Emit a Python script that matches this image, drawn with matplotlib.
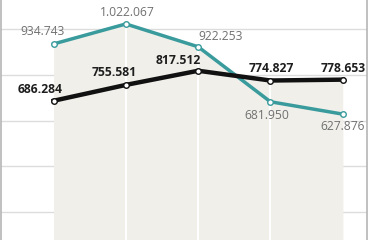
import numpy as np
import matplotlib.pyplot as plt

periods = [0, 1, 2, 3, 4]
teal_vals = [934743, 1022067, 922253, 681950, 627876]
black_vals = [686284, 755581, 817512, 774827, 778653]
teal_labels = ['934.743', '1.022.067', '922.253', '681.950', '627.876']
black_labels = ['686.284', '755.581', '817.512', '774.827', '778.653']
grid_ticks = [200000, 400000, 600000, 800000, 1000000]

# label offsets in pixels (dx, dy)
teal_off = [(-11, 12), (1, 11), (22, 10), (-4, -14), (0, -12)]
black_off = [(-13, 11), (-12, 12), (-20, 10), (1, 12), (0, 11)]

TEAL = '#3a9b9d'
BEIGE = '#f0efea'

fig = plt.figure(figsize=(3.7, 2.4), dpi=100)
ax = fig.add_axes([0.003, 0, 0.99, 1])
ymin, ymax = 77600, 1126800
ax.set_xlim(-0.726, 4.342)
ax.set_ylim(ymin, ymax)

ax.set_yticks(grid_ticks)
ax.grid(axis='y', color='#dcdcdc', lw=1.0, zorder=0)
ax.set_axisbelow(True)
ax.tick_params(left=False, bottom=False, labelleft=False, labelbottom=False)
ax.set_xticks([])
for s in ['top', 'bottom']:
    ax.spines[s].set_visible(False)
for s in ['left', 'right']:
    ax.spines[s].set_color('#b5b5b5')
    ax.spines[s].set_linewidth(1.2)

x = np.array(periods)
t = np.array(teal_vals)
b = np.array(black_vals)
ax.fill_between(x, ymin, t, color=BEIGE, lw=0, zorder=1)
ax.fill_between(x, ymin, b, color=BEIGE, lw=0, zorder=1)
ax.vlines(x[1:-1], ymin, np.maximum(t, b)[1:-1], color='white', lw=1.4, zorder=2)

ax.plot(x, t, color=TEAL, lw=2.5, marker='o', ms=4, mfc='white', mec=TEAL, mew=1, zorder=3,
        solid_joinstyle='round')
ax.plot(x, b, color='#111111', lw=3.2, marker='o', ms=4, mfc='white', mec='#111111', mew=1,
        zorder=4, solid_joinstyle='round')

for xi, v, lab, (dx, dy) in zip(x, t, teal_labels, teal_off):
    ax.annotate(lab, (xi, v), xytext=(dx, dy), textcoords='offset pixels',
                ha='center', va='center', fontsize=8.7, color='#707070',
                family=['Open Sans', 'DejaVu Sans'], zorder=5)
for xi, v, lab, (dx, dy) in zip(x, b, black_labels, black_off):
    ax.annotate(lab, (xi, v), xytext=(dx, dy), textcoords='offset pixels',
                ha='center', va='center', fontsize=8.7, color='#1e1e1e', fontweight='bold',
                family=['Open Sans', 'DejaVu Sans'], zorder=5)

fig.savefig('out.png', dpi=100)
